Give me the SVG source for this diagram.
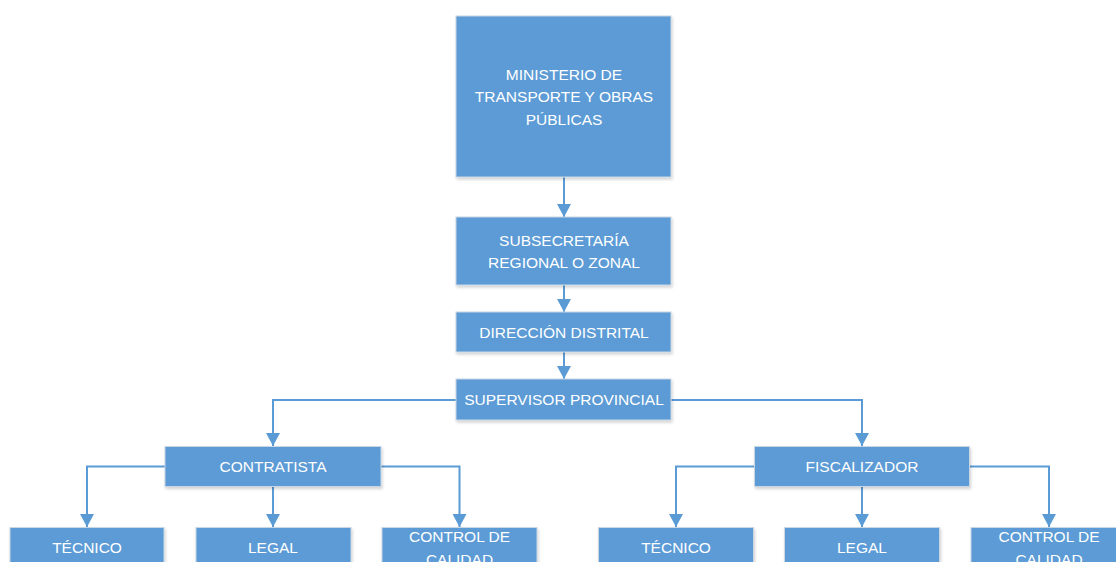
<svg xmlns="http://www.w3.org/2000/svg" width="1116" height="562" viewBox="0 0 1116 562">
<defs>
<style>
.box{fill:#5B9BD5;stroke:#c9d6e3;stroke-width:1;filter:url(#sh)}
.t{font-family:"Liberation Sans",Arial,sans-serif;font-size:15.5px;fill:#ffffff;text-anchor:middle}
.c{fill:none;stroke:#5B9BD5;stroke-width:2;marker-end:url(#ah)}
</style>
<filter id="sh" x="-10%" y="-10%" width="130%" height="140%">
<feDropShadow dx="1" dy="2" stdDeviation="1.5" flood-color="#000" flood-opacity="0.18"/>
</filter>
<marker id="ah" viewBox="0 0 13 14" refX="13" refY="7" markerWidth="13" markerHeight="14" markerUnits="userSpaceOnUse" orient="auto">
<path d="M0,0 L13,7 L0,14 Z" fill="#5B9BD5"/>
</marker>
</defs>
<rect width="1116" height="562" fill="#ffffff"/>
<g id="connectors">
<path class="c" d="M564,177 V217"/>
<path class="c" d="M564,285 V312"/>
<path class="c" d="M564,352 V379"/>
<path class="c" d="M456,400 H273 V446"/>
<path class="c" d="M671,400 H862 V446"/>
<path class="c" d="M165,466.5 H87 V527"/>
<path class="c" d="M273,487 V527"/>
<path class="c" d="M381,466.5 H459.5 V527"/>
<path class="c" d="M754.5,466.5 H676 V527"/>
<path class="c" d="M862,487 V527"/>
<path class="c" d="M969.5,466.5 H1049 V527"/>
</g>
<g id="ministerio">
<rect class="box" x="456" y="16" width="215" height="161"/>
<text class="t" x="564" y="79.5">MINISTERIO DE</text>
<text class="t" x="564" y="102">TRANSPORTE Y OBRAS</text>
<text class="t" x="564" y="125">PÚBLICAS</text>
</g>
<g id="subsecretaria">
<rect class="box" x="456" y="217" width="215" height="68"/>
<text class="t" x="564" y="246">SUBSECRETARÍA</text>
<text class="t" x="564" y="268">REGIONAL O ZONAL</text>
</g>
<g id="direccion">
<rect class="box" x="456" y="312" width="215" height="40"/>
<text class="t" x="564" y="338">DIRECCIÓN DISTRITAL</text>
</g>
<g id="supervisor">
<rect class="box" x="456" y="379" width="215" height="41"/>
<text class="t" x="564" y="405">SUPERVISOR PROVINCIAL</text>
</g>
<g id="contratista">
<rect class="box" x="165" y="446.5" width="216" height="40"/>
<text class="t" x="273" y="472">CONTRATISTA</text>
</g>
<g id="fiscalizador">
<rect class="box" x="754.5" y="446.5" width="215" height="40"/>
<text class="t" x="862" y="472">FISCALIZADOR</text>
</g>
<g id="tecnico1">
<rect class="box" x="10" y="527.5" width="154" height="50"/>
<text class="t" x="87" y="553">TÉCNICO</text>
</g>
<g id="legal1">
<rect class="box" x="196" y="527.5" width="155" height="50"/>
<text class="t" x="273" y="553">LEGAL</text>
</g>
<g id="calidad1">
<rect class="box" x="382" y="527.5" width="155" height="50"/>
<text class="t" x="459.5" y="542">CONTROL DE</text>
<text class="t" x="459.5" y="564.5">CALIDAD</text>
</g>
<g id="tecnico2">
<rect class="box" x="598.5" y="527.5" width="155" height="50"/>
<text class="t" x="676" y="553">TÉCNICO</text>
</g>
<g id="legal2">
<rect class="box" x="784.5" y="527.5" width="155" height="50"/>
<text class="t" x="862" y="553">LEGAL</text>
</g>
<g id="calidad2">
<rect class="box" x="971" y="527.5" width="155" height="50"/>
<text class="t" x="1049" y="542">CONTROL DE</text>
<text class="t" x="1049" y="564.5">CALIDAD</text>
</g>
</svg>
